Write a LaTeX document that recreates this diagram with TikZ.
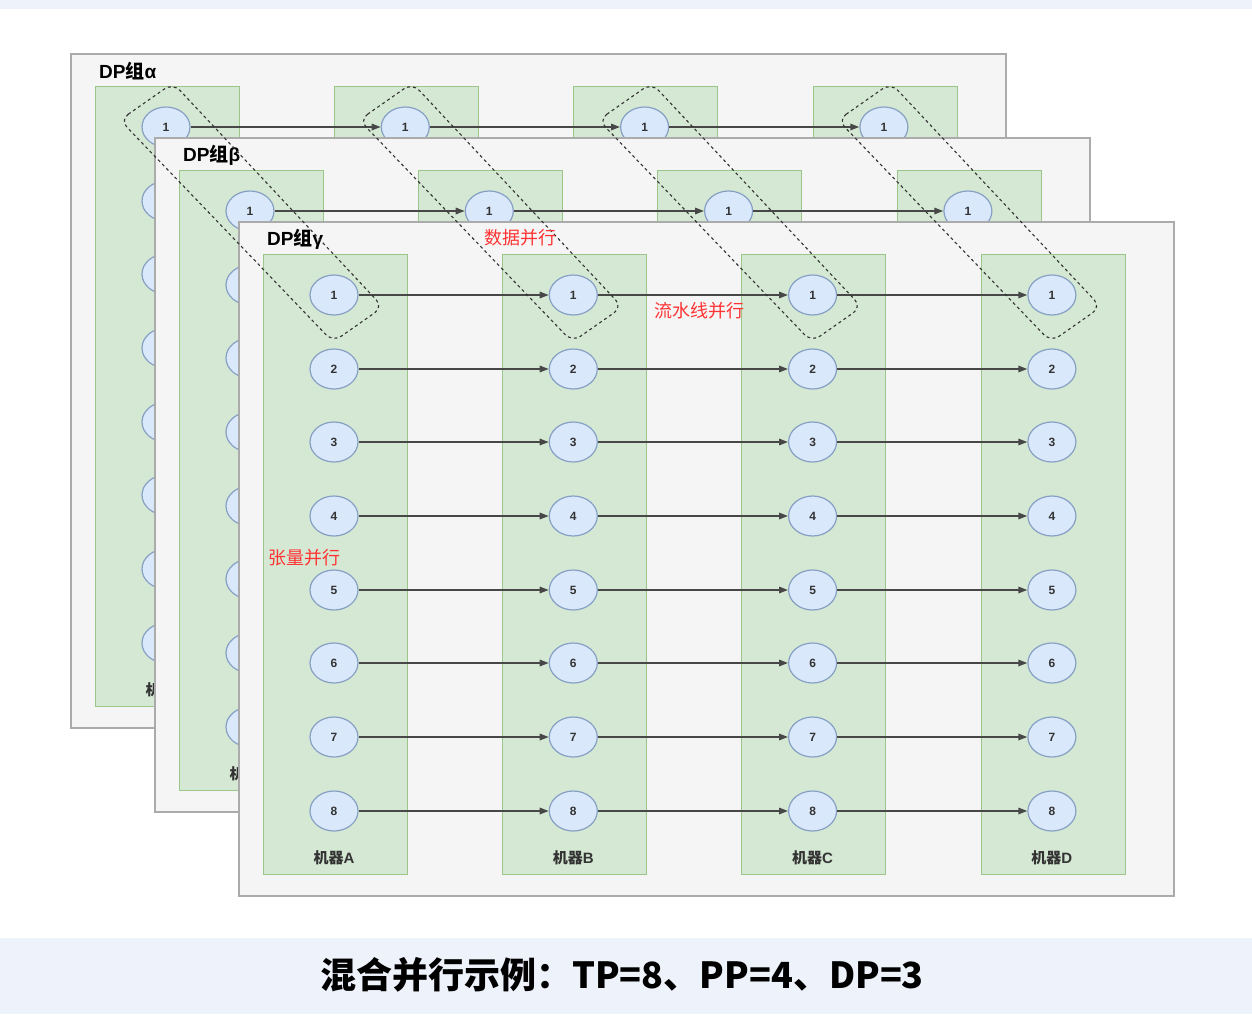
\documentclass[tikz,border=0pt]{standalone}
\usepackage{fontspec}
\setmainfont{Noto Sans CJK SC}
\newfontfamily\latinsans{Liberation Sans}
\usetikzlibrary{shapes.geometric,arrows.meta}
\definecolor{panelbg}{HTML}{F5F5F5}
\definecolor{panelline}{HTML}{ABABAB}
\definecolor{colfill}{HTML}{D5E8D4}
\definecolor{colline}{HTML}{9CC58A}
\definecolor{ellfill}{HTML}{DAE8FC}
\definecolor{ellline}{HTML}{86A0C4}
\definecolor{redtxt}{HTML}{FF3333}
\definecolor{bandbg}{HTML}{EEF2FB}
\begin{document}
\begin{tikzpicture}[x=1pt,y=-1pt,
 panel/.style={draw=panelline, fill=panelbg, line width=1.3pt, inner sep=0pt, outer sep=0pt, anchor=north west},
 column/.style={draw=colline, fill=colfill, line width=0.8pt, inner sep=0pt, outer sep=0pt, anchor=north west, minimum width=144pt, minimum height=620pt},
 circ/.style={ellipse, draw=ellline, fill=ellfill, line width=1.2pt, minimum width=48pt, minimum height=40pt, inner sep=0pt, font=\latinsans\fontsize{12}{13}\selectfont\bfseries, text=black!80},
 arr/.style={-{Triangle[length=9pt,width=6.5pt]}, line width=1.6pt, draw=black!72},
 grouplabel/.style={anchor=west, inner sep=0pt, font=\fontsize{19}{21}\selectfont\bfseries},
 machlabel/.style={font=\fontsize{15}{17}\selectfont\bfseries, text=black!80},
 redlabel/.style={text=redtxt, font=\fontsize{18}{20}\selectfont},
 dpbox/.style={draw=black!80, dash pattern=on 3pt off 3pt, line width=1.1pt, rounded corners=10pt},
]
\useasboundingbox (0,0) rectangle (1252,1014);
\fill[white] (0,0) rectangle (1252,1014);
\fill[bandbg] (0,0) rectangle (1252,9);
\fill[bandbg] (0,938) rectangle (1252,1014);

\foreach \k/\g in {0/α,1/β,2/γ} {
  \begin{scope}[shift={(84*\k,84*\k)}]
    \node[panel, minimum width=935pt, minimum height=674pt] (panel\k) at (71,54) {};
    \node[grouplabel] (lab\k) at (99,71) {{\latinsans DP}组{\latinsans \g}};
    \foreach \c/\m in {0/A,1/B,2/C,3/D} {
      \node[column] (col\k\c) at ({95+239.3*\c},86) {};
      \foreach \r in {1,...,8}
        \node[circ] (n\k-\c-\r) at ({166+239.3*\c},{round(127+73.7*(\r-1))}) {\r};
      \node[machlabel] (m\k\c) at ({166+239.3*\c},690) {机器{\latinsans \m}};
    }
    \foreach \c [evaluate=\c as \d using int(\c+1)] in {0,1,2}
      \foreach \r in {1,...,8}
        \draw[arr] (n\k-\c-\r) -- (n\k-\d-\r);
  \end{scope}
}

\foreach \c in {0,...,3} {
  \coordinate (t\c) at ({173+239.3*\c},83);
  \coordinate (r\c) at ({383+239.3*\c},307);
  \coordinate (b\c) at ({333+239.3*\c},342);
  \coordinate (l\c) at ({120+239.3*\c},120);
  \draw[dpbox] (l\c) -- (t\c) -- (r\c) -- (b\c) -- cycle;
}

\node[redlabel] (dp) at (520,238) {数据并行};
\node[redlabel] (pp) at (699,311) {流水线并行};
\node[redlabel] (tp) at (304,558) {张量并行};

\node[font=\fontsize{36}{39}\selectfont\bfseries] (cap) at (622,975) {混合并行示例：TP=8、PP=4、DP=3};
\end{tikzpicture}
\end{document}
